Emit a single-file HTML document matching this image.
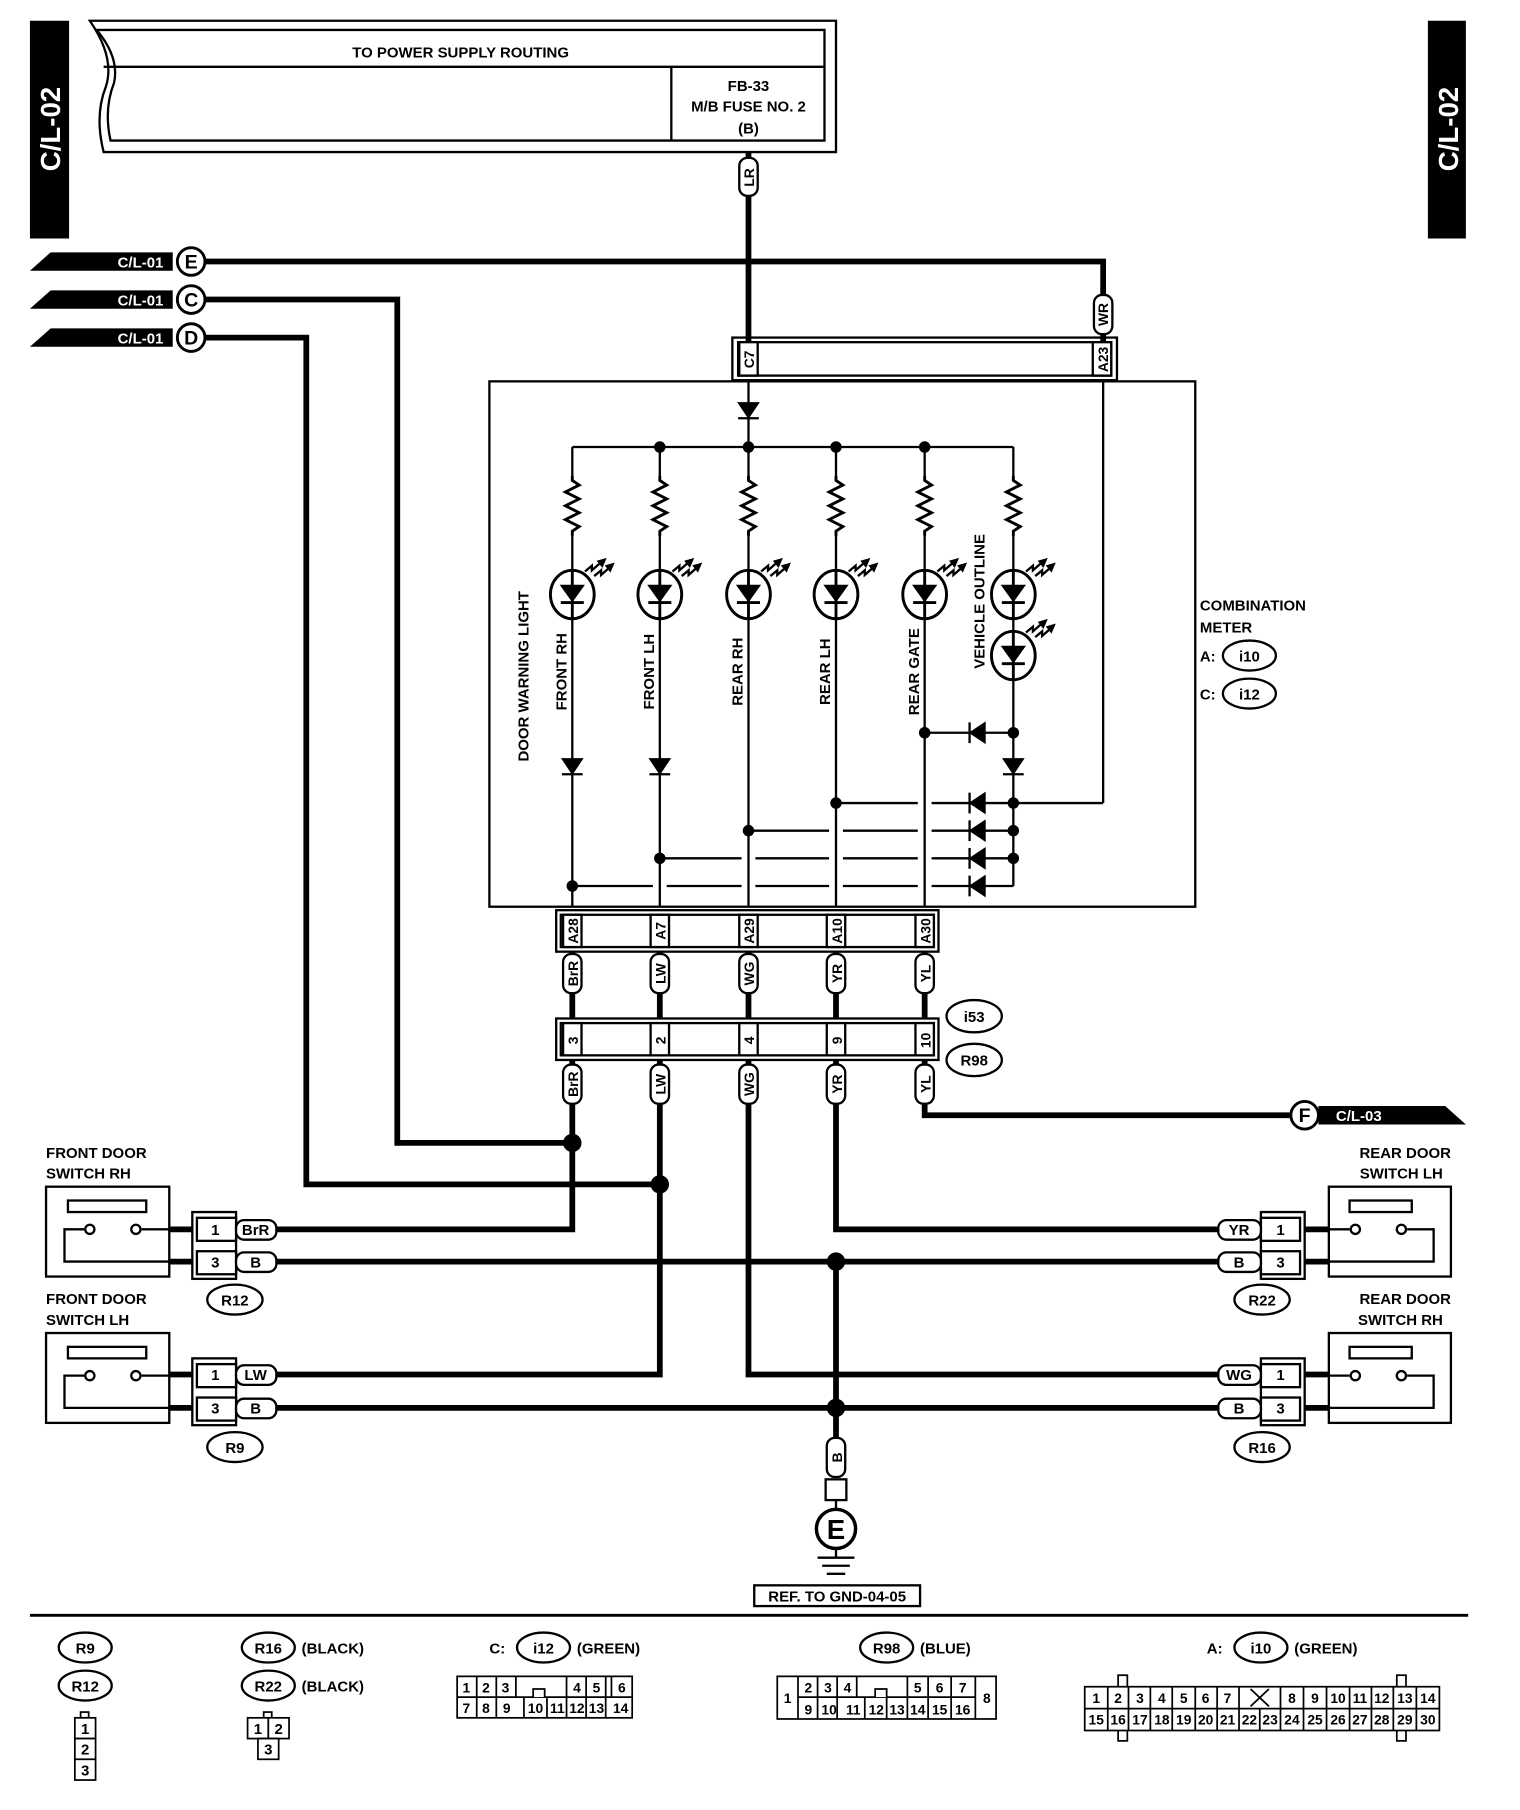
<!DOCTYPE html>
<html><head><meta charset="utf-8"><style>
html,body{margin:0;padding:0;background:#fff}
svg{display:block}
text{font-family:"Liberation Sans",sans-serif;font-weight:bold;fill:#000}
</style></head><body>
<svg width="1520" height="1810" viewBox="0 0 1320 1571" preserveAspectRatio="none" xmlns="http://www.w3.org/2000/svg">
<rect width="1320" height="1571" fill="#fff"/>
<rect x="26" y="18" width="34" height="189" fill="#000"/>
<text transform="translate(52,112) rotate(-90)" text-anchor="middle" font-size="24" style="fill:#fff">C/L-02</text>
<rect x="1240" y="18" width="33" height="189" fill="#000"/>
<text transform="translate(1266,112) rotate(-90)" text-anchor="middle" font-size="24" style="fill:#fff">C/L-02</text>

<g fill="none" stroke="#000" stroke-width="2">
<path d="M78,18 H726 V132 H90 Q82,100 92,75 Q100,50 78,18 Z"/>
<path d="M84,26 H716 V122 H96 Q90,95 99,72 Q104,50 84,26 Z"/>
<line x1="90" y1="58" x2="716" y2="58"/>
<line x1="583" y1="58" x2="583" y2="122"/>
</g>
<text x="400" y="50" text-anchor="middle" font-size="13">TO POWER SUPPLY ROUTING</text>
<text x="650" y="79" text-anchor="middle" font-size="13">FB-33</text>
<text x="650" y="97" text-anchor="middle" font-size="13">M/B FUSE NO. 2</text>
<text x="650" y="116" text-anchor="middle" font-size="13">(B)</text>

<g fill="none" stroke="#000" stroke-width="5">
<line x1="650" y1="132" x2="650" y2="296"/>
<polyline points="178,227 958,227 958,296"/>
<polyline points="178,260 345,260 345,992 497,992"/>
<polyline points="178,293 266,293 266,1028 573,1028"/>
<line x1="497" y1="826" x2="497" y2="884"/>
<line x1="573" y1="826" x2="573" y2="884"/>
<line x1="650" y1="826" x2="650" y2="884"/>
<line x1="726" y1="826" x2="726" y2="884"/>
<line x1="803" y1="826" x2="803" y2="884"/>
<polyline points="497,920 497,1067 240,1067"/>
<polyline points="573,920 573,1193 240,1193"/>
<polyline points="650,920 650,1193 1060,1193"/>
<polyline points="726,920 726,1067 1060,1067"/>
<polyline points="803,920 803,968 1120,968"/>
<line x1="240" y1="1095" x2="1060" y2="1095"/>
<line x1="240" y1="1222" x2="1060" y2="1222"/>
<line x1="726" y1="1095" x2="726" y2="1250"/>
<line x1="147" y1="1067" x2="167" y2="1067"/>
<line x1="147" y1="1095" x2="167" y2="1095"/>
<line x1="147" y1="1193" x2="167" y2="1193"/>
<line x1="147" y1="1222" x2="167" y2="1222"/>
<line x1="1133" y1="1067" x2="1154" y2="1067"/>
<line x1="1133" y1="1095" x2="1154" y2="1095"/>
<line x1="1133" y1="1193" x2="1154" y2="1193"/>
<line x1="1133" y1="1222" x2="1154" y2="1222"/>
</g>
<g fill="#000">
<circle cx="497" cy="992" r="8"/><circle cx="573" cy="1028" r="8"/>
<circle cx="726" cy="1095" r="8"/><circle cx="726" cy="1222" r="8"/>
</g>

<g>
<polygon points="26,235 44,219 150,219 150,235" fill="#000"/>
<text x="122" y="232" text-anchor="middle" font-size="13" style="fill:#fff">C/L-01</text>
<circle cx="166" cy="227" r="12" fill="#fff" stroke="#000" stroke-width="2.5"/>
<text x="166" y="233" text-anchor="middle" font-size="17">E</text>
<polygon points="26,268 44,252 150,252 150,268" fill="#000"/>
<text x="122" y="265" text-anchor="middle" font-size="13" style="fill:#fff">C/L-01</text>
<circle cx="166" cy="260" r="12" fill="#fff" stroke="#000" stroke-width="2.5"/>
<text x="166" y="266" text-anchor="middle" font-size="17">C</text>
<polygon points="26,301 44,285 150,285 150,301" fill="#000"/>
<text x="122" y="298" text-anchor="middle" font-size="13" style="fill:#fff">C/L-01</text>
<circle cx="166" cy="293" r="12" fill="#fff" stroke="#000" stroke-width="2.5"/>
<text x="166" y="299" text-anchor="middle" font-size="17">D</text>
<polygon points="1145,960 1255,960 1273,976 1145,976" fill="#000"/>
<text x="1180" y="973" text-anchor="middle" font-size="13" style="fill:#fff">C/L-03</text>
<circle cx="1133" cy="968" r="12" fill="#fff" stroke="#000" stroke-width="2.5"/>
<text x="1133" y="974" text-anchor="middle" font-size="17">F</text>
</g>

<g fill="none" stroke="#000" stroke-width="2">
<rect x="636" y="293" width="334" height="37"/>
<rect x="641" y="297" width="324" height="29" fill="#fff"/>
<rect x="425" y="331" width="613" height="456"/>
<rect x="483" y="790" width="332" height="36"/>
<rect x="487" y="794" width="324" height="28"/>
<rect x="483" y="884" width="332" height="36"/>
<rect x="487" y="888" width="324" height="28"/>
</g>
<g fill="#fff" stroke="#000" stroke-width="2">
<rect x="642" y="297" width="16" height="29"/><rect x="949" y="297" width="16" height="29"/>
<rect x="489" y="794" width="16" height="28"/><rect x="565" y="794" width="16" height="28"/><rect x="642" y="794" width="16" height="28"/><rect x="718" y="794" width="16" height="28"/><rect x="795" y="794" width="16" height="28"/>
<rect x="489" y="888" width="16" height="28"/><rect x="565" y="888" width="16" height="28"/><rect x="642" y="888" width="16" height="28"/><rect x="718" y="888" width="16" height="28"/><rect x="795" y="888" width="16" height="28"/>
</g>
<g font-size="12" text-anchor="middle">
<text transform="translate(655,312) rotate(-90)">C7</text>
<text transform="translate(962,312) rotate(-90)">A23</text>
<text transform="translate(502,808) rotate(-90)">A28</text>
<text transform="translate(578,808) rotate(-90)">A7</text>
<text transform="translate(655,808) rotate(-90)">A29</text>
<text transform="translate(731,808) rotate(-90)">A10</text>
<text transform="translate(808,808) rotate(-90)">A30</text>
<text transform="translate(502,903) rotate(-90)">3</text>
<text transform="translate(578,903) rotate(-90)">2</text>
<text transform="translate(655,903) rotate(-90)">4</text>
<text transform="translate(731,903) rotate(-90)">9</text>
<text transform="translate(808,903) rotate(-90)">10</text>
</g>

<g fill="#fff" stroke="#000" stroke-width="2">
<rect x="642" y="137" width="16" height="33" rx="7"/>
<rect x="950" y="256" width="16" height="34" rx="7"/>
<rect x="489" y="828" width="16" height="34" rx="7"/><rect x="565" y="828" width="16" height="34" rx="7"/><rect x="642" y="828" width="16" height="34" rx="7"/><rect x="718" y="828" width="16" height="34" rx="7"/><rect x="795" y="828" width="16" height="34" rx="7"/>
<rect x="489" y="924" width="16" height="34" rx="7"/><rect x="565" y="924" width="16" height="34" rx="7"/><rect x="642" y="924" width="16" height="34" rx="7"/><rect x="718" y="924" width="16" height="34" rx="7"/><rect x="795" y="924" width="16" height="34" rx="7"/>
<rect x="718" y="1248" width="16" height="34" rx="7"/>
</g>
<g font-size="12" text-anchor="middle">
<text transform="translate(655,154) rotate(-90)">LR</text>
<text transform="translate(962,273) rotate(-90)">WR</text>
<text transform="translate(502,845) rotate(-90)">BrR</text>
<text transform="translate(578,845) rotate(-90)">LW</text>
<text transform="translate(655,845) rotate(-90)">WG</text>
<text transform="translate(731,845) rotate(-90)">YR</text>
<text transform="translate(808,845) rotate(-90)">YL</text>
<text transform="translate(502,941) rotate(-90)">BrR</text>
<text transform="translate(578,941) rotate(-90)">LW</text>
<text transform="translate(655,941) rotate(-90)">WG</text>
<text transform="translate(731,941) rotate(-90)">YR</text>
<text transform="translate(808,941) rotate(-90)">YL</text>
<text transform="translate(731,1265) rotate(-90)">B</text>
</g>
<g fill="#fff" stroke="#000" stroke-width="2">
<ellipse cx="846" cy="882" rx="24" ry="14"/><ellipse cx="846" cy="920" rx="24" ry="14"/>
</g>
<text x="846" y="887" text-anchor="middle" font-size="13">i53</text>
<text x="846" y="925" text-anchor="middle" font-size="13">R98</text>

<g fill="none" stroke="#000" stroke-width="2">
<line x1="650" y1="330" x2="650" y2="787"/>
<line x1="958" y1="330" x2="958" y2="697"/>
<line x1="497" y1="388" x2="880" y2="388"/>
<line x1="497" y1="388" x2="497" y2="787"/>
<line x1="573" y1="388" x2="573" y2="787"/>
<line x1="726" y1="388" x2="726" y2="787"/>
<line x1="803" y1="388" x2="803" y2="787"/>
<line x1="880" y1="388" x2="880" y2="769"/>
<line x1="803" y1="636" x2="880" y2="636"/>
<path d="M726,697 H797 M809,697 H958"/>
<path d="M650,721 H720 M732,721 H797 M809,721 H880"/>
<path d="M573,745 H644 M656,745 H720 M732,745 H797 M809,745 H880"/>
<path d="M497,769 H567 M579,769 H644 M656,769 H720 M732,769 H797 M809,769 H880"/>
</g>
<g fill="none" stroke="#000" stroke-width="2.5">
<g id="res"><rect x="490" y="415" width="14" height="48" fill="#fff" stroke="none"/><polyline points="497,413 497,417 503,421 491,427 503,433 491,439 503,445 491,451 503,457 497,461 497,465"/></g>
<use href="#res" x="76"/><use href="#res" x="153"/><use href="#res" x="229"/><use href="#res" x="306"/><use href="#res" x="383"/>
</g>
<g id="led" stroke="#000" stroke-width="2.5">
<ellipse cx="497" cy="516" rx="19" ry="21" fill="#fff"/>
<polygon points="487,508 507,508 497,522" fill="#000" stroke-width="1"/>
<line x1="487" y1="523" x2="507" y2="523"/>
<line x1="497" y1="495" x2="497" y2="537"/>
<path d="M508,496 l6,-5 v4 l8,-7" fill="none" stroke-width="2"/>
<polygon points="526,485 519,487 523,492" fill="#000" stroke-width="1"/>
<path d="M516,500 l6,-5 v4 l8,-7" fill="none" stroke-width="2"/>
<polygon points="533,489 526,491 530,496" fill="#000" stroke-width="1"/>
</g>
<use href="#led" x="76"/><use href="#led" x="153"/><use href="#led" x="229"/><use href="#led" x="306"/><use href="#led" x="383"/><use href="#led" x="383" y="53"/>
<g fill="#000" stroke="#000" stroke-width="2">
<polygon points="642,350 658,350 650,362"/><line x1="641" y1="363" x2="659" y2="363"/>
<polygon points="489,659 505,659 497,671"/><line x1="488" y1="672" x2="506" y2="672"/>
<polygon points="565,659 581,659 573,671"/><line x1="564" y1="672" x2="582" y2="672"/>
<polygon points="872,659 888,659 880,671"/><line x1="871" y1="672" x2="889" y2="672"/>
<polygon points="855,628 855,644 843,636"/><line x1="842" y1="627" x2="842" y2="645"/>
<polygon points="855,689 855,705 843,697"/><line x1="842" y1="688" x2="842" y2="706"/>
<polygon points="855,713 855,729 843,721"/><line x1="842" y1="712" x2="842" y2="730"/>
<polygon points="855,737 855,753 843,745"/><line x1="842" y1="736" x2="842" y2="754"/>
<polygon points="855,761 855,777 843,769"/><line x1="842" y1="760" x2="842" y2="778"/>
</g>
<g fill="#000">
<circle cx="573" cy="388" r="5"/><circle cx="650" cy="388" r="5"/><circle cx="726" cy="388" r="5"/><circle cx="803" cy="388" r="5"/>
<circle cx="803" cy="636" r="5"/><circle cx="880" cy="636" r="5"/>
<circle cx="880" cy="697" r="5"/><circle cx="880" cy="721" r="5"/><circle cx="880" cy="745" r="5"/>
<circle cx="726" cy="697" r="5"/><circle cx="650" cy="721" r="5"/><circle cx="573" cy="745" r="5"/><circle cx="497" cy="769" r="5"/>
</g>
<g font-size="13" text-anchor="middle">
<text transform="translate(459,587) rotate(-90)">DOOR WARNING LIGHT</text>
<text transform="translate(492,583) rotate(-90)">FRONT RH</text>
<text transform="translate(568,583) rotate(-90)">FRONT LH</text>
<text transform="translate(645,583) rotate(-90)">REAR RH</text>
<text transform="translate(721,583) rotate(-90)">REAR LH</text>
<text transform="translate(798,583) rotate(-90)">REAR GATE</text>
<text transform="translate(855,522) rotate(-90)">VEHICLE OUTLINE</text>
</g>
<text x="1042" y="530" font-size="13">COMBINATION</text>
<text x="1042" y="549" font-size="13">METER</text>
<text x="1042" y="574" font-size="13">A:</text>
<text x="1042" y="607" font-size="13">C:</text>
<g fill="#fff" stroke="#000" stroke-width="2">
<ellipse cx="1085" cy="569" rx="23" ry="13"/><ellipse cx="1085" cy="602" rx="23" ry="13"/>
</g>
<text x="1085" y="574" text-anchor="middle" font-size="13">i10</text>
<text x="1085" y="607" text-anchor="middle" font-size="13">i12</text>

<g id="swL">
<rect x="40" y="1030" width="107" height="78" fill="#fff" stroke="#000" stroke-width="2"/>
<rect x="59" y="1042" width="68" height="10" fill="#fff" stroke="#000" stroke-width="2"/>
<path d="M147,1067 H123 M73,1067 H56 V1095 H147" fill="none" stroke="#000" stroke-width="2"/>
<circle cx="78" cy="1067" r="4" fill="#fff" stroke="#000" stroke-width="2"/>
<circle cx="118" cy="1067" r="4" fill="#fff" stroke="#000" stroke-width="2"/>
<rect x="167" y="1052" width="38" height="58" fill="#fff" stroke="#000" stroke-width="2"/>
<rect x="171" y="1057" width="34" height="20" fill="#fff" stroke="#000" stroke-width="2"/>
<rect x="171" y="1086" width="34" height="20" fill="#fff" stroke="#000" stroke-width="2"/>
</g>
<use href="#swL" y="127"/>
<g id="swR">
<rect x="1154" y="1030" width="106" height="78" fill="#fff" stroke="#000" stroke-width="2"/>
<rect x="1172" y="1042" width="54" height="10" fill="#fff" stroke="#000" stroke-width="2"/>
<path d="M1154,1067 H1172 M1222,1067 H1245 V1095 H1154" fill="none" stroke="#000" stroke-width="2"/>
<circle cx="1177" cy="1067" r="4" fill="#fff" stroke="#000" stroke-width="2"/>
<circle cx="1217" cy="1067" r="4" fill="#fff" stroke="#000" stroke-width="2"/>
<rect x="1095" y="1052" width="38" height="58" fill="#fff" stroke="#000" stroke-width="2"/>
<rect x="1095" y="1057" width="34" height="20" fill="#fff" stroke="#000" stroke-width="2"/>
<rect x="1095" y="1086" width="34" height="20" fill="#fff" stroke="#000" stroke-width="2"/>
</g>
<use href="#swR" y="127"/>
<g fill="#fff" stroke="#000" stroke-width="2">
<rect x="205" y="1059" width="35" height="17" rx="7"/><rect x="205" y="1087" width="35" height="17" rx="7"/>
<rect x="205" y="1185" width="35" height="17" rx="7"/><rect x="205" y="1214" width="35" height="17" rx="7"/>
<rect x="1058" y="1059" width="37" height="17" rx="7"/><rect x="1058" y="1087" width="37" height="17" rx="7"/>
<rect x="1058" y="1185" width="37" height="17" rx="7"/><rect x="1058" y="1214" width="37" height="17" rx="7"/>
<ellipse cx="204" cy="1128" rx="24" ry="13"/><ellipse cx="204" cy="1256" rx="24" ry="13"/>
<ellipse cx="1096" cy="1128" rx="24" ry="13"/><ellipse cx="1096" cy="1256" rx="24" ry="13"/>
</g>
<g font-size="13" text-anchor="middle">
<text x="187" y="1072">1</text><text x="187" y="1100">3</text><text x="187" y="1198">1</text><text x="187" y="1227">3</text>
<text x="1112" y="1072">1</text><text x="1112" y="1100">3</text><text x="1112" y="1198">1</text><text x="1112" y="1227">3</text>
<text x="222" y="1072">BrR</text><text x="222" y="1100">B</text><text x="222" y="1198">LW</text><text x="222" y="1227">B</text>
<text x="1076" y="1072">YR</text><text x="1076" y="1100">B</text><text x="1076" y="1198">WG</text><text x="1076" y="1227">B</text>
<text x="204" y="1133">R12</text><text x="204" y="1261">R9</text><text x="1096" y="1133">R22</text><text x="1096" y="1261">R16</text>
</g>
<g font-size="13">
<text x="40" y="1005">FRONT DOOR</text><text x="40" y="1023">SWITCH RH</text>
<text x="40" y="1132">FRONT DOOR</text><text x="40" y="1150">SWITCH LH</text>
<text x="1260" y="1005" text-anchor="end">REAR DOOR</text><text x="1253" y="1023" text-anchor="end">SWITCH LH</text>
<text x="1260" y="1132" text-anchor="end">REAR DOOR</text><text x="1253" y="1150" text-anchor="end">SWITCH RH</text>
</g>

<rect x="717" y="1284" width="18" height="18" fill="#fff" stroke="#000" stroke-width="2"/>
<line x1="726" y1="1302" x2="726" y2="1310" stroke="#000" stroke-width="2"/>
<circle cx="726" cy="1327" r="17" fill="#fff" stroke="#000" stroke-width="3"/>
<text x="726" y="1336" text-anchor="middle" font-size="24">E</text>
<g stroke="#000" stroke-width="2"><line x1="726" y1="1344" x2="726" y2="1352"/><line x1="710" y1="1352" x2="742" y2="1352"/><line x1="714" y1="1359" x2="738" y2="1359"/><line x1="718" y1="1366" x2="734" y2="1366"/></g>
<rect x="655" y="1376" width="144" height="18" fill="#fff" stroke="#000" stroke-width="2"/>
<text x="727" y="1390" text-anchor="middle" font-size="13">REF. TO GND-04-05</text>
<line x1="26" y1="1402" x2="1275" y2="1402" stroke="#000" stroke-width="2.5"/>

<g fill="#fff" stroke="#000" stroke-width="2">
<ellipse cx="74" cy="1430" rx="23" ry="13"/><ellipse cx="74" cy="1463" rx="23" ry="13"/>
<ellipse cx="233" cy="1430" rx="23" ry="13"/><ellipse cx="233" cy="1463" rx="23" ry="13"/>
<ellipse cx="472" cy="1430" rx="23" ry="13"/><ellipse cx="770" cy="1430" rx="23" ry="13"/><ellipse cx="1095" cy="1430" rx="23" ry="13"/>
</g>
<g font-size="13">
<text x="74" y="1435" text-anchor="middle">R9</text><text x="74" y="1468" text-anchor="middle">R12</text>
<text x="233" y="1435" text-anchor="middle">R16</text><text x="233" y="1468" text-anchor="middle">R22</text>
<text x="262" y="1435">(BLACK)</text><text x="262" y="1468">(BLACK)</text>
<text x="425" y="1435">C:</text><text x="472" y="1435" text-anchor="middle">i12</text><text x="501" y="1435">(GREEN)</text>
<text x="770" y="1435" text-anchor="middle">R98</text><text x="799" y="1435">(BLUE)</text>
<text x="1048" y="1435">A:</text><text x="1095" y="1435" text-anchor="middle">i10</text><text x="1124" y="1435">(GREEN)</text>
</g>
<g fill="#fff" stroke="#000" stroke-width="1.5">
<rect x="70" y="1486" width="7" height="5"/>
<rect x="65" y="1491" width="18" height="18"/><rect x="65" y="1509" width="18" height="18"/><rect x="65" y="1527" width="18" height="18"/>
<rect x="229" y="1486" width="7" height="5"/>
<rect x="215" y="1491" width="18" height="18"/><rect x="233" y="1491" width="18" height="18"/><rect x="224" y="1509" width="18" height="18"/>
</g>
<g font-size="13" text-anchor="middle">
<text x="74" y="1505">1</text><text x="74" y="1523">2</text><text x="74" y="1541">3</text>
<text x="224" y="1505">1</text><text x="242" y="1505">2</text><text x="233" y="1523">3</text>
</g>
<g fill="#fff" stroke="#000" stroke-width="1.5">
<rect x="397" y="1455" width="152" height="36"/>
<line x1="397" y1="1473" x2="549" y2="1473"/>
<path d="M414,1455V1491 M431,1455V1491 M448,1455V1473 M455,1473V1491 M475,1473V1491 M492,1455V1491 M509,1455V1491 M526,1455V1491 M531,1455V1473"/>
<path d="M463,1473 v-7 h10 v7" />
</g>
<g font-size="12" text-anchor="middle">
<text x="405" y="1469">1</text><text x="422" y="1469">2</text><text x="439" y="1469">3</text><text x="501" y="1469">4</text><text x="518" y="1469">5</text><text x="540" y="1469">6</text>
<text x="405" y="1487">7</text><text x="422" y="1487">8</text><text x="440" y="1487">9</text><text x="465" y="1487">10</text><text x="484" y="1487">11</text><text x="501" y="1487">12</text><text x="518" y="1487">13</text><text x="539" y="1487">14</text>
</g>
<g fill="#fff" stroke="#000" stroke-width="1.5">
<rect x="675" y="1455" width="190" height="37"/>
<path d="M693,1455V1492 M693,1473H847 M847,1455V1492 M710,1455V1492 M727,1455V1492 M744,1455V1473 M751,1473V1492 M770,1473V1492 M788,1455V1492 M806,1455V1492 M826,1455V1492"/>
<path d="M760,1473 v-7 h10 v7"/>
</g>
<g font-size="12" text-anchor="middle">
<text x="684" y="1478">1</text><text x="857" y="1478">8</text>
<text x="702" y="1469">2</text><text x="719" y="1469">3</text><text x="736" y="1469">4</text><text x="797" y="1469">5</text><text x="816" y="1469">6</text><text x="836" y="1469">7</text>
<text x="702" y="1488">9</text><text x="720" y="1488">10</text><text x="741" y="1488">11</text><text x="761" y="1488">12</text><text x="779" y="1488">13</text><text x="797" y="1488">14</text><text x="816" y="1488">15</text><text x="836" y="1488">16</text>
</g>
<g fill="#fff" stroke="#000" stroke-width="1.5">
<rect x="971" y="1454" width="8" height="57"/><rect x="1213" y="1454" width="8" height="57"/>
<rect x="942" y="1464" width="308" height="38"/>
<line x1="942" y1="1483" x2="1250" y2="1483"/>
<path d="M962,1464V1502 M980,1464V1502 M999,1464V1502 M1018,1464V1502 M1038,1464V1502 M1057,1464V1502 M1076,1464V1502 M1094,1483V1502 M1112,1464V1502 M1132,1464V1502 M1152,1464V1502 M1172,1464V1502 M1191,1464V1502 M1210,1464V1502 M1230,1464V1502"/>
<path d="M1086,1466 l16,15 M1102,1466 l-16,15"/>
</g>
<g font-size="12" text-anchor="middle">
<text x="952" y="1478">1</text><text x="971" y="1478">2</text><text x="990" y="1478">3</text><text x="1009" y="1478">4</text><text x="1028" y="1478">5</text><text x="1047" y="1478">6</text><text x="1066" y="1478">7</text>
<text x="1122" y="1478">8</text><text x="1142" y="1478">9</text><text x="1162" y="1478">10</text><text x="1181" y="1478">11</text><text x="1200" y="1478">12</text><text x="1220" y="1478">13</text><text x="1240" y="1478">14</text>
<text x="952" y="1497">15</text><text x="971" y="1497">16</text><text x="990" y="1497">17</text><text x="1009" y="1497">18</text><text x="1028" y="1497">19</text><text x="1047" y="1497">20</text><text x="1066" y="1497">21</text><text x="1085" y="1497">22</text><text x="1103" y="1497">23</text><text x="1122" y="1497">24</text><text x="1142" y="1497">25</text><text x="1162" y="1497">26</text><text x="1181" y="1497">27</text><text x="1200" y="1497">28</text><text x="1220" y="1497">29</text><text x="1240" y="1497">30</text>
</g>
</svg>
</body></html>
